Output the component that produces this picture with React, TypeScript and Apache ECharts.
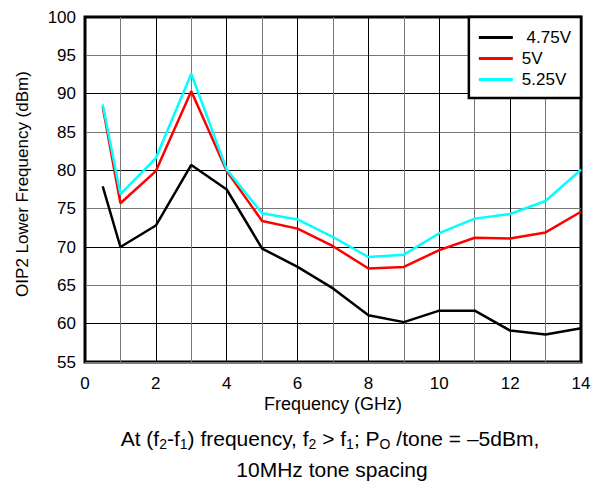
import React, { useEffect, useRef } from "react";
import * as echarts from "echarts";

const freqs = [0.5, 1, 2, 3, 4, 5, 6, 7, 8, 9, 10, 11, 12, 13, 14];
const v475 = [77.9, 70.0, 72.8, 80.7, 77.5, 69.8, 67.4, 64.6, 61.1, 60.2, 61.7, 61.7, 59.1, 58.6, 59.4];
const v500 = [88.3, 75.7, 79.9, 90.3, 79.9, 73.4, 72.4, 70.1, 67.2, 67.4, 69.6, 71.2, 71.1, 71.9, 74.6];
const v525 = [88.6, 76.9, 81.6, 92.6, 80.1, 74.4, 73.6, 71.3, 68.7, 69.0, 71.8, 73.7, 74.3, 76.0, 80.1];
const seriesNames = ["4.75V", "5V", "5.25V"];
const legendLabels = ["\u00a04.75V", "5V", "5.25V"];
const seriesColors = ["#000000", "#ff0000", "#00ffff"];
const seriesValues = [v475, v500, v525];

const FONT = "'Liberation Sans', Arial, sans-serif";

export default function App() {
  const ref = useRef<HTMLDivElement>(null);
  useEffect(() => {
    if (!ref.current) return;
    const chart = echarts.init(ref.current, null, { renderer: "svg" });
    const rich = {
      n: { fontSize: 21, fontFamily: FONT, color: "#000", lineHeight: 26 },
      s: { fontSize: 14, fontFamily: FONT, color: "#000", verticalAlign: "bottom" },
    };
    chart.setOption({
      animation: false,
      backgroundColor: "#fff",
      textStyle: { fontFamily: FONT },
      grid: {
        left: 85,
        right: 17,
        top: 17,
        bottom: 121,
        show: true,
        borderColor: "#000",
        borderWidth: 3,
        containLabel: false,
      },
      legend: {
        orient: "vertical",
        right: 17,
        top: 17,
        backgroundColor: "#fff",
        borderColor: "#000",
        borderWidth: 2.5,
        borderRadius: 0,
        padding: [12, 10, 10, 10],
        itemWidth: 34,
        itemHeight: 3,
        itemGap: 4,
        icon: "rect",
        data: seriesNames,
        formatter: (name: string) => legendLabels[seriesNames.indexOf(name)],
        textStyle: { fontSize: 17, color: "#000", fontFamily: FONT, padding: [0, 0, 0, 4], lineHeight: 17 },
      },
      xAxis: {
        type: "value",
        min: 0,
        max: 14,
        interval: 1,
        axisLine: { show: false },
        axisTick: { show: false },
        axisLabel: {
          formatter: (v: number) => (v % 2 === 0 ? String(v) : ""),
          fontSize: 17,
          color: "#000",
          margin: 13,
          fontFamily: FONT,
        },
        splitLine: { show: true, lineStyle: { color: ["#000", "#777"], width: 1 } },
      },
      yAxis: {
        type: "value",
        min: 55,
        max: 100,
        interval: 5,
        axisLine: { show: false },
        axisTick: { show: false },
        axisLabel: { fontSize: 17, color: "#000", margin: 9, fontFamily: FONT },
        splitLine: { show: true, lineStyle: { color: ["#777", "#000"], width: 1 } },
      },
      series: seriesNames.map((name, i) => ({
        name,
        type: "line",
        data: freqs.map((f, j) => [f, seriesValues[i][j]]),
        symbol: "none",
        lineStyle: { color: seriesColors[i], width: 2.5 },
        itemStyle: { color: seriesColors[i] },
        z: 3 + i,
      })),
      graphic: [
        {
          type: "text",
          x: 22,
          y: 184,
          rotation: Math.PI / 2,
          style: {
            text: "OIP2 Lower Frequency (dBm)",
            fontSize: 17,
            fontFamily: FONT,
            fill: "#000",
            align: "center",
            verticalAlign: "middle",
          },
        },
        {
          type: "text",
          x: 333,
          y: 404,
          style: {
            text: "Frequency (GHz)",
            fontSize: 18,
            fontFamily: FONT,
            fill: "#000",
            align: "center",
            verticalAlign: "middle",
          },
        },
        {
          type: "text",
          x: 330,
          y: 438,
          style: {
            text:
              "{n|At (f}{s|2}{n|-f}{s|1}{n|) frequency, f}{s|2}{n| > f}{s|1}{n|; P}{s|O}{n| /tone = \u20135dBm,}",
            rich,
            align: "center",
            verticalAlign: "middle",
          },
        },
        {
          type: "text",
          x: 332,
          y: 469,
          style: {
            text: "10MHz tone spacing",
            fontSize: 21,
            fontFamily: FONT,
            fill: "#000",
            align: "center",
            verticalAlign: "middle",
          },
        },
      ],
    });
    return () => chart.dispose();
  }, []);
  return <div ref={ref} style={{ width: 598, height: 483, position: "absolute", left: 0, top: 0 }} />;
}
